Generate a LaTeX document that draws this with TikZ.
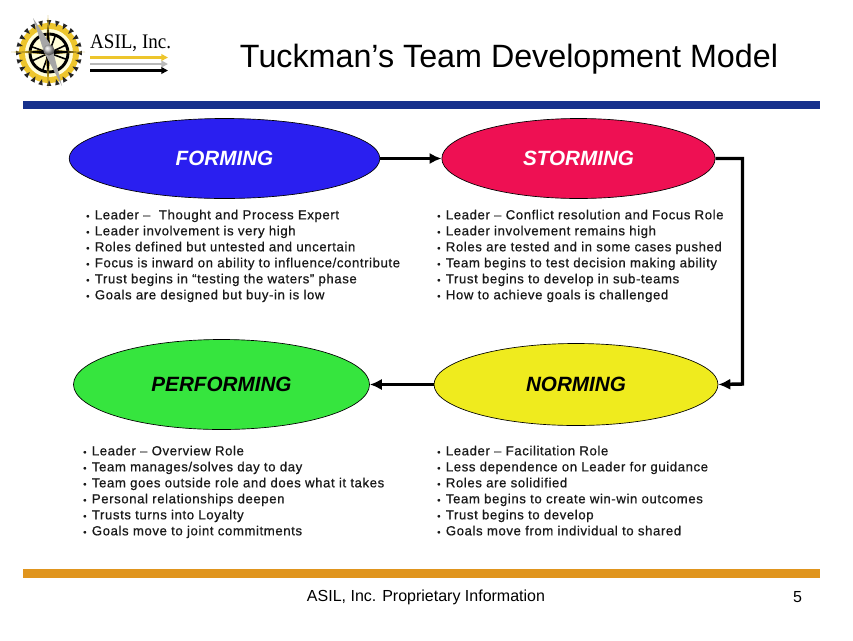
\documentclass[tikz,border=0pt]{standalone}
\usepackage{fontspec}
\setmainfont{Liberation Sans}
\newfontfamily\logofont{Liberation Serif}
\newfontfamily\bodyfont[LetterSpace=4.4,FakeBold=0.6]{Liberation Sans}
\usetikzlibrary{arrows.meta,calc,shapes.geometric}
\definecolor{barblue}{HTML}{16308C}
\definecolor{barorange}{HTML}{E0951E}
\definecolor{formc}{HTML}{2A1FF0}
\definecolor{stormc}{HTML}{EE1053}
\definecolor{perfc}{HTML}{36E53E}
\definecolor{normc}{HTML}{EFEB1E}
\definecolor{logogold}{HTML}{EDC52C}
\tikzset{
  phase/.style={draw=black,line width=0.5pt,ellipse,inner sep=0pt},
  phasetext/.style={font=\fontsize{15.5}{18}\selectfont\bfseries\itshape},
  bullets/.style={anchor=north west,inner sep=0pt,align=left,font=\bodyfont\fontsize{9.9}{12}\selectfont,text=black!90},
  flow/.style={line width=2.6pt,-{Latex[length=9pt,width=8.5pt]}}
}
\newcommand{\bl}{{\fontsize{7}{7}\selectfont\textbullet}\hspace{4pt}}
\begin{document}
\begin{tikzpicture}[x=0.75pt,y=-0.75pt]
\useasboundingbox (0,0) rectangle (853,640);
\fill[white] (0,0) rectangle (853,640);
% logo
\fill[logogold] (49,53) circle (30);
\foreach \a in {0,15,...,345}{\fill[black!85] ($(49,53)+(\a-4:33)$) -- ($(49,53)+(\a+4:33)$) -- ($(49,53)+(\a:27)$) -- cycle;}
\fill[yellow!15] (49,53) circle (24);
\draw[black,line width=2.2pt] (49,53) circle (19);
\foreach \a in {20,65,...,340}{\draw[black,line width=1.2pt] (49,53) -- +(\a:19);}
\fill[logogold!80!black] (11,52) -- (48,49.5) -- (85,52) -- (48,54.5) -- cycle;
\fill[black] (26,52) -- (48,49.5) -- (76,52) -- (48,54.5) -- cycle;
\fill[logogold!80!black] (48,15) -- (45.5,51) -- (48,88) -- (50.5,51) -- cycle;
\fill[black] (48,25) -- (45.5,51) -- (48,76) -- (50.5,51) -- cycle;
\fill[gray!70] (33,18) -- (52,47) -- (62,86) -- (44,52) -- cycle;
\shade[ball color=gray!50] (49,50) circle (5.5);
\node[font=\logofont\fontsize{15.5}{18}\selectfont,anchor=west,inner sep=0pt,xscale=0.92] (logotext) at (90,43) {ASIL, Inc.};
\coordinate (la1) at (90,57.5); \coordinate (la2) at (168,57.5);
\coordinate (lb1) at (90,64); \coordinate (lb2) at (168,64);
\coordinate (lc1) at (90,70.5); \coordinate (lc2) at (168,70.5);
\draw[logogold,line width=1.6pt,-{Triangle[length=5pt,width=5pt]}] (la1)--(la2);
\draw[gray!55,line width=1.6pt,-{Triangle[length=5pt,width=5pt]}] (lb1)--(lb2);
\draw[black,line width=1.6pt,-{Triangle[length=5pt,width=5pt]}] (lc1)--(lc2);
% title
\node[font=\fontsize{24.2}{28}\selectfont,inner sep=0pt] (title) at (509,59) {Tuckman’s Team Development Model};
% bars
\fill[barblue] (23,101) rectangle (820,109);
\fill[barorange] (23,569) rectangle (820,578);
% ellipses
\node[phase,fill=formc,text=white,minimum width=233pt,minimum height=60pt,phasetext] (form) at (224.5,158.5) {FORMING};
\node[phase,fill=stormc,text=white,minimum width=205pt,minimum height=60pt,phasetext] (storm) at (578.5,158.5) {STORMING};
\node[phase,fill=perfc,minimum width=222pt,minimum height=67.5pt,phasetext] (perf) at (221.5,384.5) {PERFORMING};
\node[phase,fill=normc,minimum width=213pt,minimum height=61.5pt,phasetext] (norm) at (576,384.5) {NORMING};
% connectors
\draw[flow] (form.east) -- (storm.west);
\draw[flow] (storm.east) -- (742.5,158.5) -- (742.5,384) -- (norm.east);
\draw[flow] (norm.west) -- (perf.east);
% text
\node[bullets] (t1) at (86,209.5) {\bl Leader –\ \ Thought and Process Expert\\\bl Leader involvement is very high\\\bl Roles defined but untested and uncertain\\\bl Focus is inward on ability to influence/contribute\\\bl Trust begins in “testing the waters” phase\\\bl Goals are designed but buy-in is low};
\node[bullets] (t2) at (437,209.5) {\bl Leader – Conflict resolution and Focus Role\\\bl Leader involvement remains high\\\bl Roles are tested and in some cases pushed\\\bl Team begins to test decision making ability\\\bl Trust begins to develop in sub-teams\\\bl How to achieve goals is challenged};
\node[bullets] (t3) at (83,445.5) {\bl Leader – Overview Role\\\bl Team manages/solves day to day\\\bl Team goes outside role and does what it takes\\\bl Personal relationships deepen\\\bl Trusts turns into Loyalty\\\bl Goals move to joint commitments};
\node[bullets] (t4) at (437,445.5) {\bl Leader – Facilitation Role\\\bl Less dependence on Leader for guidance\\\bl Roles are solidified\\\bl Team begins to create win-win outcomes\\\bl Trust begins to develop\\\bl Goals move from individual to shared};
% footer
\node[font=\fontsize{12}{14}\selectfont,inner sep=0pt] (foot) at (426,597.5) {ASIL, Inc. Proprietary Information};
\node[font=\fontsize{12}{14}\selectfont,inner sep=0pt] (page) at (797.5,597.5) {5};
\end{tikzpicture}
\end{document}
